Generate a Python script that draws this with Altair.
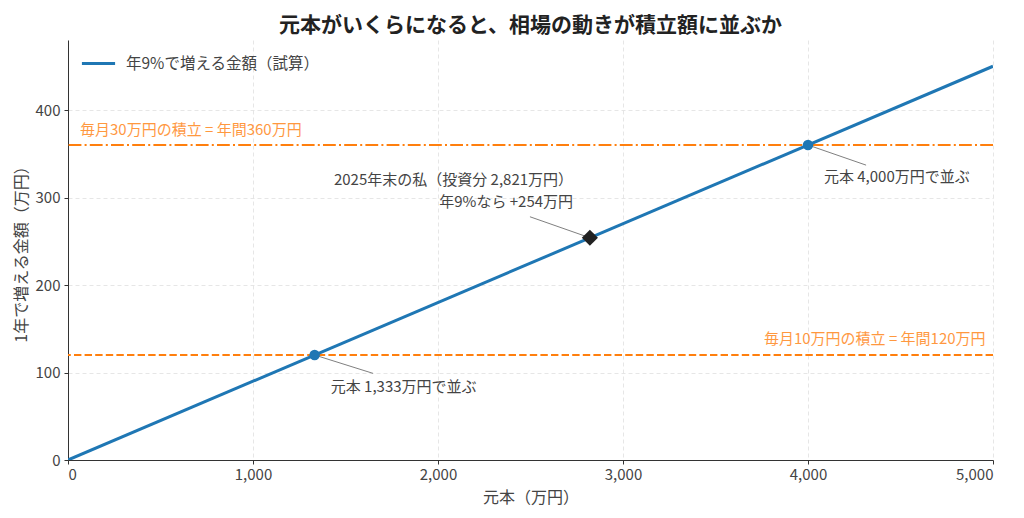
import altair as alt
import pandas as pd

# Principal (万円) and the yearly 9% gain on it
principal = [0, 5000]
gain = [0, 450]
series_name = "年9%で増える金額（試算）"

# Monthly savings lines (yearly totals)
level_30 = 360
level_10 = 120

# Break-even points and my own position
cross_x = [1333, 4000]
cross_y = [120, 360]
me_x = [2821]
me_y = [254]

# Annotation texts
label_30 = "毎月30万円の積立 = 年間360万円"
label_10 = "毎月10万円の積立 = 年間120万円"
label_4000 = "元本 4,000万円で並ぶ"
label_1333 = "元本 1,333万円で並ぶ"
label_me = "2025年末の私（投資分 2,821万円）\n年9%なら +254万円"

FONT = "Noto Sans CJK JP"
BLUE = "#1f77b4"
ORANGE = "#ff7f0e"
TEXT = "#444444"
ANN = 15

xs = alt.Scale(domain=[0, 5000], nice=False, zero=False)
ys = alt.Scale(domain=[0, 480], nice=False, zero=False)

line_df = pd.DataFrame({"x": principal, "y": gain, "s": [series_name] * len(principal)})

base_line = alt.Chart(line_df).mark_line(strokeWidth=3, clip=True).encode(
    x=alt.X("x:Q", scale=xs,
            axis=alt.Axis(title="元本（万円）", values=[0, 1000, 2000, 3000, 4000, 5000], format=",d")),
    y=alt.Y("y:Q", scale=ys,
            axis=alt.Axis(title="1年で増える金額（万円）", values=[0, 100, 200, 300, 400], format="d")),
    color=alt.Color("s:N", scale=alt.Scale(range=[BLUE]),
                    legend=alt.Legend(title=None, orient="none", legendX=12, legendY=5,
                                      symbolType="stroke", symbolStrokeWidth=3, symbolSize=1100,
                                      labelFontSize=15.5, labelColor=TEXT, labelFont=FONT,
                                      labelOffset=9, labelLimit=0)),
)

hline_df = pd.DataFrame({"y": [level_30, level_10], "kind": ["30", "10"]})

rule_30 = alt.Chart(hline_df[hline_df.kind == "30"]).mark_rule(
    color=ORANGE, strokeWidth=2, strokeDash=[12.8, 3.2, 2, 3.2]
).encode(y=alt.Y("y:Q", scale=ys))

rule_10 = alt.Chart(hline_df[hline_df.kind == "10"]).mark_rule(
    color=ORANGE, strokeWidth=2, strokeDash=[7.4, 3.2]
).encode(y=alt.Y("y:Q", scale=ys))

# leader lines from points to labels
lead_df = pd.DataFrame({
    "x": [4000, 1333, 2821],
    "y": [360, 120, 254],
    "x2": [4314, 1649, 2497],
    "y2": [337, 99, 278],
})
leaders = alt.Chart(lead_df).mark_rule(color="#808080", strokeWidth=1).encode(
    x=alt.X("x:Q", scale=xs), y=alt.Y("y:Q", scale=ys), x2="x2:Q", y2="y2:Q"
)

pts = alt.Chart(pd.DataFrame({"x": cross_x, "y": cross_y})).mark_point(
    shape="circle", filled=True, size=110, color=BLUE, opacity=1
).encode(x=alt.X("x:Q", scale=xs), y=alt.Y("y:Q", scale=ys))

me = alt.Chart(pd.DataFrame({"x": me_x, "y": me_y})).mark_point(
    shape="diamond", filled=True, size=260, color="#222222", opacity=1
).encode(x=alt.X("x:Q", scale=xs), y=alt.Y("y:Q", scale=ys))


def label(txt, x, y, align, color=TEXT, **kw):
    return alt.Chart(pd.DataFrame({"x": [x], "y": [y], "t": [txt]})).mark_text(
        align=align, baseline="middle", font=FONT, fontSize=ANN, color=color, **kw
    ).encode(x=alt.X("x:Q", scale=xs), y=alt.Y("y:Q", scale=ys), text="t:N")


t30 = label(label_30, 65, 377, "left", color=ORANGE, opacity=0.8)
t10 = label(label_10, 4960, 138, "right", color=ORANGE, opacity=0.8)
t4000 = label(label_4000, 4086, 323, "left")
t1333 = label(label_1333, 1420, 84, "left")
tme = label(label_me, 2730, 320, "right", lineBreak="\n", lineHeight=22)

chart = alt.layer(
    rule_30, rule_10, base_line, leaders, pts, me, t30, t10, t4000, t1333, tme
).properties(
    width=925,
    height=420,
    title=alt.TitleParams("元本がいくらになると、相場の動きが積立額に並ぶか",
                          font=FONT, fontSize=21, fontWeight="bold", color="#222222",
                          anchor="middle", offset=4),
    autosize=alt.AutoSizeParams(type="none"),
    padding={"left": 60, "top": 32, "right": 20, "bottom": 54},
).configure_view(
    stroke=None
).configure_axis(
    labelFont=FONT, titleFont=FONT, labelFontSize=15, titleFontSize=16,
    labelColor=TEXT, titleColor=TEXT, titleFontWeight="normal",
    domainColor="#333333", tickColor="#333333", tickSize=4,
    gridColor="#e0e0e0", gridDash=[4, 3], gridWidth=0.8,
).configure_axisY(
    titlePadding=6, labelPadding=4
).configure_axisX(
    titlePadding=7, labelPadding=3
)

chart.save("out.html", embed_options={"renderer": "svg", "actions": False})
